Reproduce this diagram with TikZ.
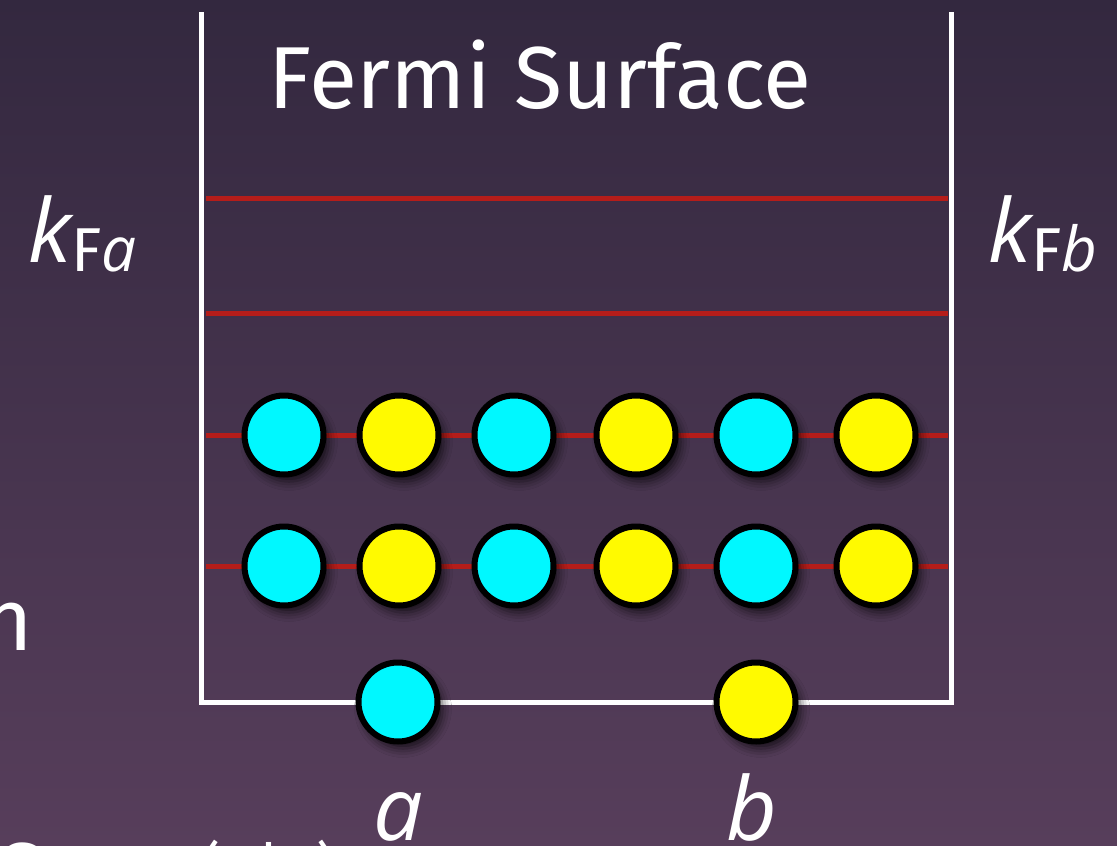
\documentclass[tikz,border=0pt]{standalone}
\usepackage{fontspec}
\setmainfont{Fira Sans}
\newfontfamily\eul{Open Sans}
\usetikzlibrary{shadows.blur}

\definecolor{bgtop}{HTML}{33283F}
\definecolor{bgbot}{HTML}{573E5B}
\definecolor{levelred}{HTML}{B51D1A}
\definecolor{ecyan}{HTML}{00F8FF}
\definecolor{eyellow}{HTML}{FFFA00}

\newcommand{\kf}[1]{{\eul\itshape k}\raisebox{-9pt}{\fontsize{62}{70}\selectfont F{\eul\itshape #1}}}

\begin{document}
\begin{tikzpicture}[x=1pt, y=-1pt,
  elec/.style={circle, draw=black, line width=6pt, inner sep=0pt, minimum size=79pt,
    blur shadow={shadow xshift=5pt, shadow yshift=-7pt, shadow blur radius=9pt, shadow opacity=70}},
  acyan/.style={elec, fill=ecyan},
  byellow/.style={elec, fill=eyellow},
  wall/.style={white, line width=5pt, line join=miter},
  level/.style={levelred, line width=5pt},
  big/.style={white, inner sep=0pt, font=\fontsize{88}{100}\selectfont},
  small/.style={white, inner sep=0pt, font=\fontsize{62}{70}\selectfont}]
\useasboundingbox (0,0) rectangle (1117,846);
\clip (0,0) rectangle (1117,846);
\shade[top color=bgtop, bottom color=bgbot] (0,0) rectangle (1117,846);
% box
\coordinate (tl) at (201,12);
\coordinate (bl) at (201,702);
\coordinate (br) at (951,702);
\coordinate (tr) at (951,12);
\draw[wall] (tl) -- (bl) -- (br) -- (tr);
% levels
\coordinate (l1w) at (206,198); \coordinate (l1e) at (948,198);
\coordinate (l2w) at (206,313); \coordinate (l2e) at (948,313);
\coordinate (l3w) at (206,435); \coordinate (l3e) at (948,435);
\coordinate (l4w) at (206,566); \coordinate (l4e) at (948,566);
\draw[level] (l1w) -- (l1e);
\draw[level] (l2w) -- (l2e);
\draw[level] (l3w) -- (l3e);
\draw[level] (l4w) -- (l4e);
% filled levels
\node[acyan]   (u1) at (284,435) {};
\node[byellow] (u2) at (399,435) {};
\node[acyan]   (u3) at (514,435) {};
\node[byellow] (u4) at (636,435) {};
\node[acyan]   (u5) at (756,435) {};
\node[byellow] (u6) at (876,435) {};
\node[acyan]   (d1) at (284,566) {};
\node[byellow] (d2) at (399,566) {};
\node[acyan]   (d3) at (514,566) {};
\node[byellow] (d4) at (636,566) {};
\node[acyan]   (d5) at (756,566) {};
\node[byellow] (d6) at (876,566) {};
% ground
\node[acyan]   (ga) at (398,702) {};
\node[byellow] (gb) at (756,702) {};
% labels
\node[big, anchor=base] (title) at (540,108) {Fermi Surface};
\node[big, anchor=base west] (kfa) at (28,262) {\kf{a}};
\node[big, anchor=base west] (kfb) at (988,262) {\kf{b}};
\node[big, anchor=base] (la) at (398,840) {\eul\itshape a};
\node[big, anchor=base] (lb) at (752,840) {\eul\itshape b};
\node[big, anchor=base east] (cutn) at (33,650) {n};
\node[big, anchor=base west] (cuts) at (-2,904) {S};
\node[small, anchor=base west] (cutpc) at (200,892) {(P|C)};
\end{tikzpicture}
\end{document}
